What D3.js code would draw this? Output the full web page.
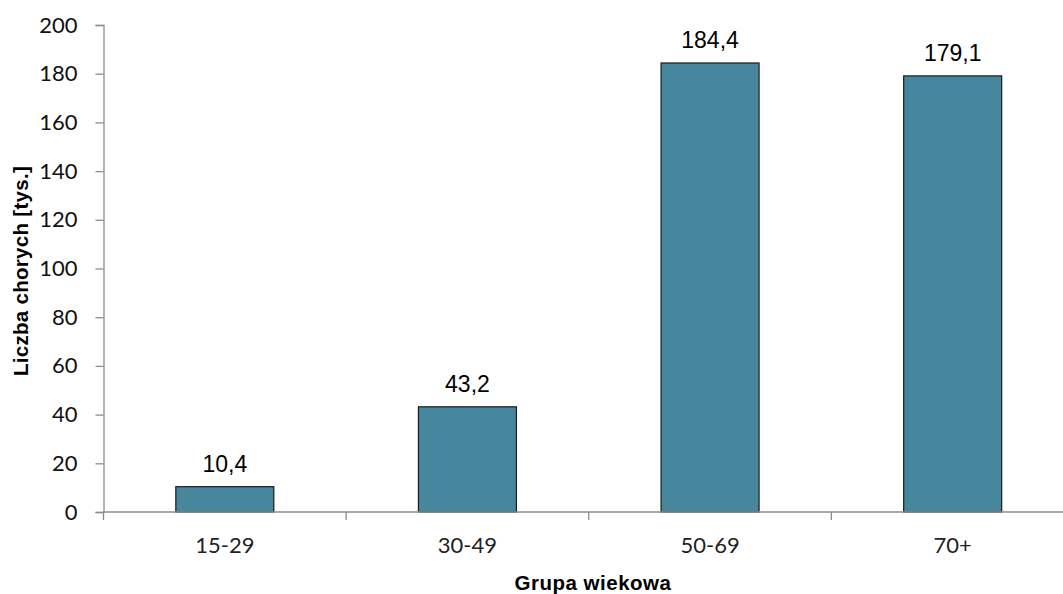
<!DOCTYPE html>
<html>
<head>
<meta charset="utf-8">
<script src="https://cdn.jsdelivr.net/npm/d3@7"></script>
<style>
  html, body { margin: 0; padding: 0; background: #fff; }
  svg { display: block; }
</style>
</head>
<body>
<svg id="chart" width="1063" height="594"></svg>
<script>
// Age groups and number of patients (thousands)
const categories = ["15-29", "30-49", "50-69", "70+"];
const values = [10.4, 43.2, 184.4, 179.1];
const yTicks = [0, 20, 40, 60, 80, 100, 120, 140, 160, 180, 200];
const yTitle = "Liczba chorych [tys.]";
const xTitle = "Grupa wiekowa";

const svg = d3.select("#chart");
const plotLeft = 103.5, plotBottom = 512, plotTop = 25, plotRight = 1074;

const x = d3.scaleBand().domain(categories).range([plotLeft, plotRight]).paddingInner(0).paddingOuter(0);
const y = d3.scaleLinear().domain([0, 200]).range([plotBottom, plotTop]);

const axisColor = "#8c8c8c";
const tickFont = "Lato, 'Open Sans', sans-serif";
const labelFont = "'Liberation Sans', Arial, sans-serif";

// Y axis
const yAxis = svg.append("g")
  .attr("transform", `translate(${plotLeft},0)`)
  .call(d3.axisLeft(y).tickValues(yTicks).tickSize(8).tickPadding(18).tickFormat(d3.format("d")));
yAxis.select(".domain").attr("stroke", axisColor).attr("stroke-width", 1.3);
yAxis.selectAll(".tick line").attr("stroke", axisColor).attr("stroke-width", 1.3);
yAxis.selectAll(".tick text")
  .attr("fill", "#111")
  .style("font-family", tickFont)
  .style("font-size", "22px");

// Bars
const barWidth = 98;
svg.append("g").selectAll("rect")
  .data(values)
  .join("rect")
  .attr("x", (d, i) => x(categories[i]) + x.bandwidth() / 2 - barWidth / 2)
  .attr("width", barWidth)
  .attr("y", d => y(d))
  .attr("height", d => y(0) - y(d))
  .attr("fill", "#46879e")
  .attr("stroke", "#1a1a1a")
  .attr("stroke-width", 1.2);

// X axis: baseline with ticks at category boundaries
const xAxis = svg.append("g").attr("transform", `translate(0,${plotBottom})`);
xAxis.append("line")
  .attr("x1", plotLeft).attr("x2", plotRight).attr("y1", 0).attr("y2", 0)
  .attr("stroke", axisColor).attr("stroke-width", 1.3);
const bounds = categories.map(c => x(c)).concat([x.range()[1]]);
xAxis.selectAll("line.tick")
  .data(bounds)
  .join("line")
  .attr("class", "tick")
  .attr("x1", d => d).attr("x2", d => d)
  .attr("y1", 0).attr("y2", 8)
  .attr("stroke", axisColor).attr("stroke-width", 1.3);
xAxis.selectAll("text")
  .data(categories)
  .join("text")
  .attr("x", d => x(d) + x.bandwidth() / 2)
  .attr("y", 41)
  .attr("text-anchor", "middle")
  .attr("fill", "#222")
  .style("font-family", tickFont)
  .style("font-size", "22px")
  .text(d => d);

// Value labels
const fmt = d3.formatLocale({ decimal: ",", thousands: " ", grouping: [3], currency: ["", ""] }).format(".1f");
svg.append("g").selectAll("text")
  .data(values)
  .join("text")
  .attr("x", (d, i) => x(categories[i]) + x.bandwidth() / 2)
  .attr("y", d => y(d) - 15)
  .attr("text-anchor", "middle")
  .attr("fill", "#000")
  .style("font-family", labelFont)
  .style("font-size", "23px")
  .text(d => fmt(d));

// Axis titles
svg.append("text")
  .attr("transform", "translate(28,271) rotate(-90)")
  .attr("text-anchor", "middle")
  .attr("fill", "#000")
  .style("font-family", labelFont)
  .style("font-weight", "bold")
  .style("font-size", "20.5px")
  .style("letter-spacing", "0.3px")
  .text(yTitle);

svg.append("text")
  .attr("x", 593)
  .attr("y", 590)
  .attr("text-anchor", "middle")
  .attr("fill", "#000")
  .style("font-family", labelFont)
  .style("font-weight", "bold")
  .style("font-size", "20.5px")
  .style("letter-spacing", "0.5px")
  .text(xTitle);
</script>
</body>
</html>
